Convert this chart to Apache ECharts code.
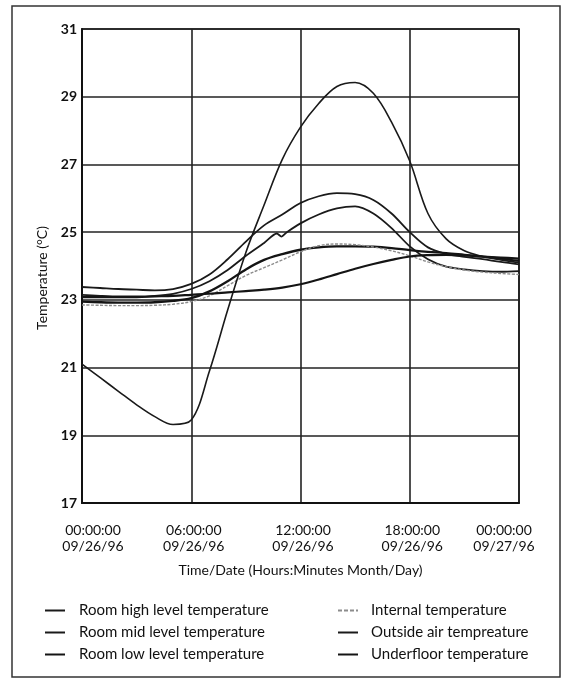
<!DOCTYPE html>
<html>
<head>
<meta charset="utf-8">
<script src="https://cdn.jsdelivr.net/npm/echarts@6/dist/echarts.min.js"></script>
<style>
html,body{margin:0;padding:0;background:#fff;}
#chart{width:570px;height:681px;}
</style>
</head>
<body>
<div id="chart"></div>
<script>
// ---- data (hours since 00:00 09/26/96, temperatures in °C) ----
const seriesNames = [
  "Room high level temperature",
  "Room mid level temperature",
  "Room low level temperature",
  "Internal temperature",
  "Outside air tempreature",
  "Underfloor temperature"
];
const hourlyHours = [0,1,2,3,4,5,6,7,8,9,10,11,12,13,14,15,16,17,18,19,20,21,22,23,24];
const highTemp = [23.38,23.35,23.32,23.3,23.28,23.32,23.47,23.75,24.2,24.72,25.2,25.52,25.86,26.06,26.15,26.12,25.95,25.55,25.0,24.55,24.36,24.27,24.2,24.12,24.05];
const lowTemp = [22.95,22.93,22.92,22.92,22.93,22.97,23.05,23.25,23.55,23.9,24.18,24.35,24.48,24.55,24.58,24.58,24.57,24.53,24.47,24.42,24.38,24.33,24.28,24.22,24.15];
const internalTemp = [22.85,22.84,22.83,22.83,22.84,22.87,22.95,23.12,23.42,23.72,23.95,24.18,24.42,24.6,24.65,24.63,24.56,24.45,24.3,24.12,23.98,23.88,23.82,23.78,23.75];
const underfloorTemp = [23.08,23.08,23.08,23.08,23.1,23.12,23.15,23.18,23.22,23.26,23.3,23.36,23.46,23.6,23.76,23.92,24.06,24.18,24.28,24.32,24.33,24.31,24.28,24.25,24.22];
const outsideTemp = [21.1,20.7,20.3,19.9,19.55,19.32,19.45,20.9,22.7,24.4,25.8,27.15,28.1,28.8,29.3,29.42,29.1,28.25,27.1,25.55,24.8,24.45,24.28,24.18,24.1];
const midHours = [0,1,2,3,4,5,6,7,8,9,10,10.7,10.95,11.25,12,13,14,15,16,17,18,19,20,21,22,23,24];
const midTemp = [23.15,23.12,23.1,23.1,23.12,23.18,23.32,23.55,23.88,24.3,24.68,24.96,24.87,25.0,25.26,25.52,25.7,25.76,25.55,25.12,24.58,24.2,23.98,23.9,23.85,23.83,23.85];
const xTickTimes = ["00:00:00","06:00:00","12:00:00","18:00:00","00:00:00"];
const xTickDates = ["09/26/96","09/26/96","09/26/96","09/26/96","09/27/96"];
const yTicks = [17,19,21,23,25,27,29,31];

function pairs(xs, ys){ return xs.map((x,i)=>[x, ys[i]]); }

const FONT = 'Lato, "Open Sans", sans-serif';
const INK = '#111111';

const chart = echarts.init(document.getElementById('chart'), null, {renderer:'canvas'});

function mk(name, data, width, color, type, smooth){
  return {
    name: name, type: 'line', data: data, smooth: smooth || 0.35, symbol: 'none',
    lineStyle: {width: width, color: color, type: type || 'solid'},
    itemStyle: {color: color},
    emphasis: {disabled: true}
  };
}

const legendBase = {
  orient: 'vertical', top: 603, icon: 'rect', padding: 0,
  itemWidth: 20, itemHeight: 2, itemGap: 7, selectedMode: false
};
const dashIcon = 'path://M0,0h4v2h-4z M6,0h4v2h-4z M12,0h4v2h-4z M18,0h2v2h-2z';

const option = {
  backgroundColor: '#ffffff',
  animation: false,
  grid: {left: 82, right: 51, top: 29, bottom: 178, show: true, borderColor: INK, borderWidth: 1.7},
  xAxis: {
    type: 'value', min: 0, max: 24, interval: 6,
    name: 'Time/Date (Hours:Minutes Month/Day)',
    nameLocation: 'middle', nameGap: 60,
    nameTextStyle: {fontFamily: FONT, fontSize: 14, color: INK},
    axisLine: {show: true, lineStyle: {color: INK, width: 1.9}},
    axisTick: {show: false},
    splitLine: {show: true, lineStyle: {color: '#222', width: 1.6}},
    axisLabel: {
      margin: 19, fontFamily: FONT, fontSize: 14, color: INK, lineHeight: 16,
      formatter: function(v){
        const i = Math.round(v/6);
        const key = i === 0 ? 'l' : (i === 4 ? 'r' : 'm');
        return '{' + key + '|' + xTickTimes[i] + '}\n{' + key + '|' + xTickDates[i] + '}';
      },
      rich: {
        l: {fontFamily: FONT, fontSize: 14, color: INK, lineHeight: 16, padding: [0,0,0,22]},
        m: {fontFamily: FONT, fontSize: 14, color: INK, lineHeight: 16, padding: [0,0,0,5]},
        r: {fontFamily: FONT, fontSize: 14, color: INK, lineHeight: 16, padding: [0,30,0,0]}
      }
    }
  },
  yAxis: {
    type: 'value', min: 17, max: 31, interval: 2,
    name: 'Temperature (°C)',
    nameLocation: 'middle', nameGap: 32, nameRotate: 90,
    nameTextStyle: {fontFamily: FONT, fontSize: 14, color: INK, padding: [0,24,0,0]},
    axisLine: {show: true, lineStyle: {color: INK, width: 1.9}},
    axisTick: {show: false},
    splitLine: {show: true, lineStyle: {color: '#222', width: 1.6}},
    axisLabel: {
      margin: 5, fontFamily: FONT, fontSize: 14, fontWeight: 'bold', color: INK,
      formatter: function(v){ return yTicks.indexOf(v) >= 0 ? String(v) : ''; }
    }
  },
  legend: [
    Object.assign({}, legendBase, {
      data: seriesNames.slice(0,3), left: 45,
      textStyle: {fontFamily: FONT, fontSize: 15, color: INK, lineHeight: 15, padding: [0,0,0,9]}
    }),
    Object.assign({}, legendBase, {
      data: [{name: seriesNames[3], icon: dashIcon}, seriesNames[4], seriesNames[5]], left: 338,
      textStyle: {fontFamily: FONT, fontSize: 15, color: INK, lineHeight: 15, padding: [0,0,0,8]}
    })
  ],
  graphic: [
    {type: 'rect', shape: {x: 12, y: 6, width: 548, height: 671}, style: {fill: 'none', stroke: '#333', lineWidth: 1.5}, silent: true, z: -1}
  ],
  series: [
    mk(seriesNames[0], pairs(hourlyHours, highTemp), 1.8, '#1a1a1a'),
    mk(seriesNames[1], pairs(midHours, midTemp), 1.8, '#1a1a1a', 'solid', 0.25),
    mk(seriesNames[2], pairs(hourlyHours, lowTemp), 2.3, '#141414'),
    mk(seriesNames[3], pairs(hourlyHours, internalTemp), 1.4, '#8c8c8c', [3,1.5]),
    mk(seriesNames[4], pairs(hourlyHours, outsideTemp), 1.6, '#1a1a1a'),
    mk(seriesNames[5], pairs(hourlyHours, underfloorTemp), 2.2, '#141414')
  ]
};
chart.setOption(option);
</script>
</body>
</html>
